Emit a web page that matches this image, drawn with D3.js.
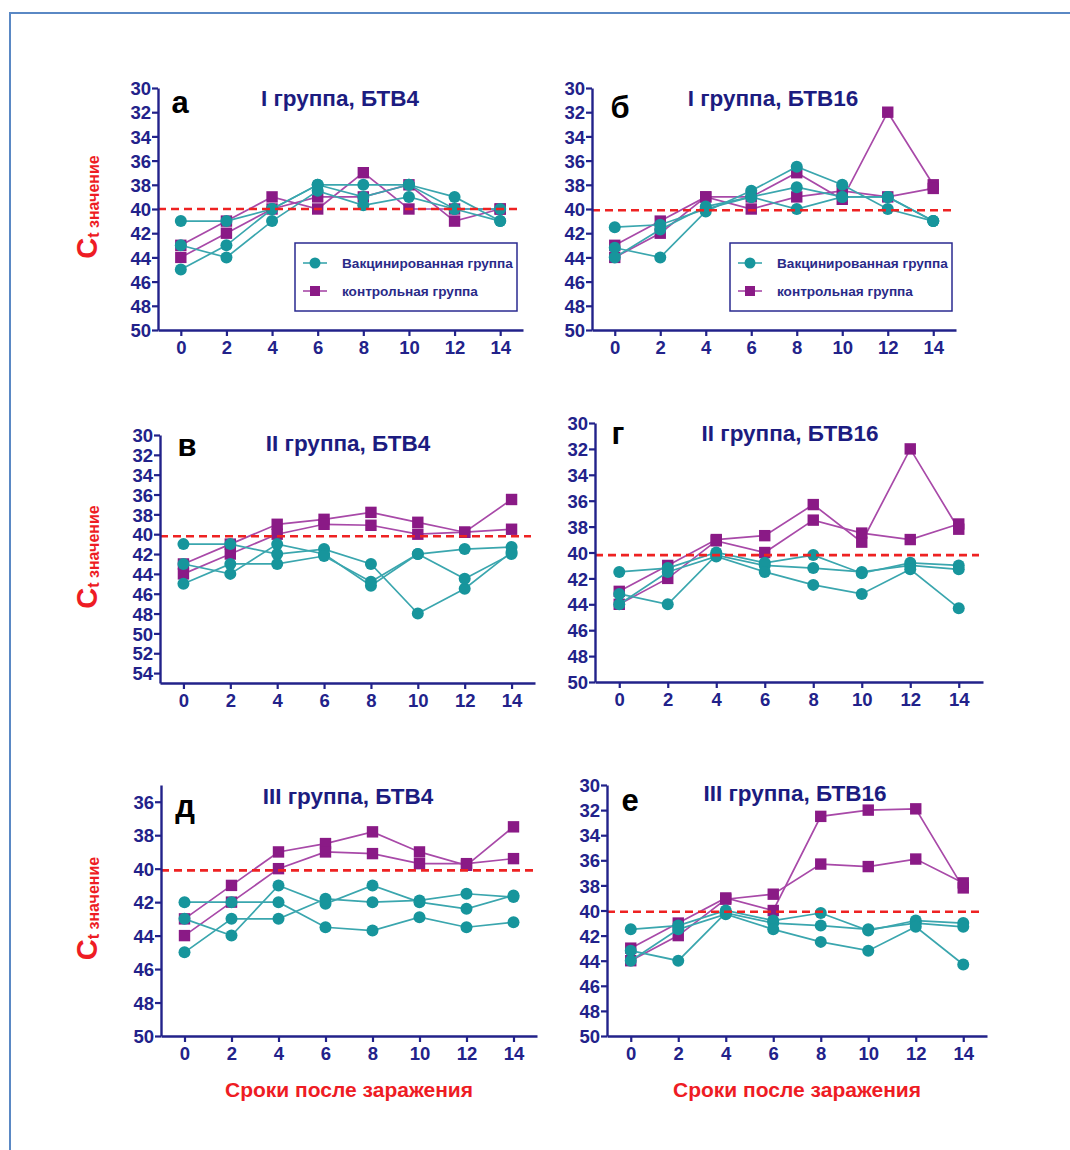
<!DOCTYPE html>
<html>
<head>
<meta charset="utf-8">
<script src="https://cdn.jsdelivr.net/npm/d3@7"></script>
<style>
  body { margin: 0; background: #fff; }
  svg { display: block; }
</style>
</head>
<body>
<div id="chart"></div>
<script>
// days after infection
const days = [0, 2, 4, 6, 8, 10, 12, 14];

// Ct values, each inner array is one animal
const vaccA = [
  [41, 41, 40, 38, 38, 38, 39, 41],
  [43, 44, 41, 38.5, 39.7, 39, 40, 41],
  [45, 43, 40, 38, 39, 38, 40, 40]
];
const ctrlA = [
  [43, 41, 39, 40, 37, 40, 40, 40],
  [44, 42, 40, 39, 39, 38, 41, 40]
];

const vaccB = [
  [41.5, 41.3, 40, 39, 38.2, 39, 39, 41],
  [43.2, 44, 40.2, 38.5, 36.5, 38, 40, 41],
  [44, 41.7, 39.8, 39, 40, 39, 39, 41]
];
const ctrlB = [
  [43, 41, 39, 39, 37, 39.2, 32, 38],
  [44, 42, 39, 40, 39, 38.5, 39, 38.3]
];

const vaccV = [
  [41, 41, 42, 41.5, 43, 48, 45.5, 41.8],
  [43, 44, 41, 42, 45.2, 42, 41.5, 41.3],
  [45, 43, 43, 42.2, 44.8, 42, 44.5, 42]
];
const ctrlV = [
  [43, 41, 39, 38.5, 37.8, 38.8, 39.8, 36.5],
  [44, 42, 40, 39, 39.1, 40, 39.8, 39.5]
];

const vaccG = [
  [41.5, 41.2, 40, 40.8, 40.2, 41.6, 40.8, 41],
  [43.2, 44, 40.2, 41, 41.2, 41.5, 41, 41.3],
  [44, 41.5, 40.3, 41.5, 42.5, 43.2, 41.3, 44.3]
];
const ctrlG = [
  [43, 41, 39, 38.7, 36.3, 39.2, 32, 38.2],
  [44, 42, 39.1, 40, 37.5, 38.5, 39, 37.8]
];

const vaccD = [
  [42, 42, 42, 43.5, 43.7, 42.9, 43.5, 43.2],
  [43, 44, 41, 42.1, 41, 42, 42.4, 41.6],
  [45, 43, 43, 41.8, 42, 41.9, 41.5, 41.7]
];
const ctrlD = [
  [43, 41, 39, 38.5, 37.8, 39, 39.8, 37.5],
  [44, 42, 40, 39, 39.1, 39.7, 39.7, 39.4]
];

const vaccE = [
  [41.5, 41.2, 40, 40.8, 40.2, 41.6, 40.8, 41],
  [43.2, 44, 40.2, 41, 41.2, 41.5, 41, 41.3],
  [44, 41.5, 40.3, 41.5, 42.5, 43.2, 41.3, 44.3]
];
const ctrlE = [
  [43, 41, 39, 40, 32.5, 32, 31.9, 38.2],
  [44, 42, 39.1, 38.7, 36.3, 36.5, 35.9, 37.8]
];

const titles = ["I группа, БТВ4", "I группа, БТВ16", "II группа, БТВ4",
                "II группа, БТВ16", "III группа, БТВ4", "III группа, БТВ16"];
const letters = ["а", "б", "в", "г", "д", "е"];
const thresholds = [40, 40.1, 40.2, 40.2, 40.1, 40.1];
const yDomains = [[30, 50], [30, 50], [30, 55], [30, 50], [35, 50], [30, 50]];
const yTickStart = [30, 30, 30, 30, 36, 30];
const yTickEnd = [50, 50, 54, 50, 50, 50];
const legendLabels = ["Вакцинированная группа", "контрольная группа"];
const yLabelMain = "C", yLabelSub = "t значение";
const xLabel = "Сроки после заражения";

const vaccSets = [vaccA, vaccB, vaccV, vaccG, vaccD, vaccE];
const ctrlSets = [ctrlA, ctrlB, ctrlV, ctrlG, ctrlD, ctrlE];

// pixel layout of each panel: x range maps days -1..15, y range maps yDomain
const layout = [
  { left: 158, right: 523, top: 88,  bottom: 330, titleX: 340, titleY: 106, letX: 180, letY: 113, legend: true },
  { left: 592, right: 956, top: 88,  bottom: 330, titleX: 773, titleY: 106, letX: 620, letY: 118, legend: true },
  { left: 160, right: 535, top: 435, bottom: 683, titleX: 348, titleY: 451, letX: 187, letY: 456 },
  { left: 595, right: 983, top: 423, bottom: 682, titleX: 790, titleY: 441, letX: 618, letY: 444 },
  { left: 161, right: 537, top: 785, bottom: 1036, titleX: 348, titleY: 804, letX: 185, letY: 817 },
  { left: 607, right: 987, top: 785, bottom: 1036, titleX: 795, titleY: 801, letX: 630, letY: 811 }
];

const W = 1070, H = 1150;
const navy = "#22228a";
const tealLine = "#3aa6ae", tealMark = "#17959c";
const purpLine = "#a849a8", purpMark = "#8a1a86";
const font = "'Liberation Sans', Arial, sans-serif";

const svg = d3.select("#chart").append("svg")
  .attr("width", W).attr("height", H)
  .attr("viewBox", `0 0 ${W} ${H}`);

// outer frame
svg.append("path")
  .attr("d", `M10,${H} L10,13 L${W},13`)
  .attr("fill", "none")
  .attr("stroke", "#5a88c4")
  .attr("stroke-width", 2);

const square = d3.symbol().type(d3.symbolSquare).size(130);

layout.forEach(function(p, i) {
  const g = svg.append("g");

  const x = d3.scaleLinear().domain([-1, 15]).range([p.left, p.right]);
  const y = d3.scaleLinear().domain(yDomains[i]).range([p.top, p.bottom]);

  const line = d3.line().x((d, k) => x(days[k])).y(d => y(d));

  // control group (purple squares)
  ctrlSets[i].forEach(function(s) {
    g.append("path").datum(s)
      .attr("d", line)
      .attr("fill", "none")
      .attr("stroke", purpLine)
      .attr("stroke-width", 1.7);
  });
  ctrlSets[i].forEach(function(s) {
    g.selectAll(null).data(s).enter().append("path")
      .attr("d", square)
      .attr("transform", (d, k) => `translate(${x(days[k])},${y(d)})`)
      .attr("fill", purpMark);
  });

  // vaccinated group (teal circles)
  vaccSets[i].forEach(function(s) {
    g.append("path").datum(s)
      .attr("d", line)
      .attr("fill", "none")
      .attr("stroke", tealLine)
      .attr("stroke-width", 1.7);
  });
  vaccSets[i].forEach(function(s) {
    g.selectAll(null).data(s).enter().append("circle")
      .attr("cx", (d, k) => x(days[k]))
      .attr("cy", d => y(d))
      .attr("r", 6)
      .attr("fill", tealMark);
  });

  // threshold
  g.append("line")
    .attr("x1", p.left).attr("x2", p.right - 4)
    .attr("y1", y(thresholds[i])).attr("y2", y(thresholds[i]))
    .attr("stroke", "#ee2222")
    .attr("stroke-width", 2.6)
    .attr("stroke-dasharray", "8,5");

  // axes
  const yAxis = g.append("g")
    .attr("transform", `translate(${p.left},0)`)
    .call(d3.axisLeft(y)
      .tickValues(d3.range(yTickStart[i], yTickEnd[i] + 1, 2))
      .tickSize(6).tickPadding(1).tickSizeOuter(0));
  const xAxis = g.append("g")
    .attr("transform", `translate(0,${p.bottom})`)
    .call(d3.axisBottom(x).tickValues(days).tickSize(6).tickPadding(5).tickSizeOuter(0));

  [yAxis, xAxis].forEach(function(a) {
    a.select(".domain").attr("stroke", navy).attr("stroke-width", 2.4);
    a.selectAll(".tick line").attr("stroke", navy).attr("stroke-width", 2.2);
    a.selectAll(".tick text")
      .attr("fill", navy)
      .style("font-family", font)
      .style("font-weight", "bold")
      .style("font-size", "18.5px");
  });
  yAxis.selectAll(".tick text").attr("dy", "0.36em");

  // title & panel letter
  g.append("text")
    .attr("x", p.titleX).attr("y", p.titleY)
    .attr("text-anchor", "middle")
    .attr("fill", "#1c1c80")
    .style("font-family", font)
    .style("font-weight", "bold")
    .style("font-size", "22.5px")
    .text(titles[i]);

  g.append("text")
    .attr("x", p.letX).attr("y", p.letY)
    .attr("text-anchor", "middle")
    .attr("fill", "#000")
    .style("font-family", font)
    .style("font-weight", "bold")
    .style("font-size", "31px")
    .text(letters[i]);

  // y label on left column
  if (i % 2 === 0) {
    const cy = (p.top + p.bottom) / 2 - 2;
    const t = g.append("text")
      .attr("transform", `translate(97,${cy}) rotate(-90)`)
      .attr("text-anchor", "middle")
      .attr("fill", "#ee1c24")
      .style("font-family", font)
      .style("font-weight", "bold");
    t.append("tspan").style("font-size", "29px").text(yLabelMain);
    t.append("tspan").style("font-size", "16px").attr("dy", "2").text(yLabelSub);
  }

  // x label on bottom row
  if (i >= 4) {
    g.append("text")
      .attr("x", (p.left + p.right) / 2).attr("y", 1097)
      .attr("text-anchor", "middle")
      .attr("fill", "#ee1c24")
      .style("font-family", font)
      .style("font-weight", "bold")
      .style("font-size", "21px")
      .text(xLabel);
  }

  // legend
  if (p.legend) {
    const lx = i === 0 ? 295 : 730, ly = 243;
    const lg = g.append("g").attr("transform", `translate(${lx},${ly})`);
    lg.append("rect")
      .attr("width", 222).attr("height", 68)
      .attr("fill", "#fff")
      .attr("stroke", "#2a2a90")
      .attr("stroke-width", 1.5);
    legendLabels.forEach(function(lab, k) {
      const yy = 20 + k * 28;
      lg.append("line")
        .attr("x1", 8).attr("x2", 32).attr("y1", yy).attr("y2", yy)
        .attr("stroke", k === 0 ? tealLine : purpLine)
        .attr("stroke-width", 1.6);
      if (k === 0) {
        lg.append("circle").attr("cx", 20).attr("cy", yy).attr("r", 5.5).attr("fill", tealMark);
      } else {
        lg.append("path").attr("d", d3.symbol().type(d3.symbolSquare).size(100))
          .attr("transform", `translate(20,${yy})`).attr("fill", purpMark);
      }
      lg.append("text")
        .attr("x", 47).attr("y", yy + 5)
        .attr("fill", "#2a2a88")
        .style("font-family", font)
        .style("font-weight", "bold")
        .style("font-size", "13.6px")
        .text(lab);
    });
  }
});
</script>
</body>
</html>
